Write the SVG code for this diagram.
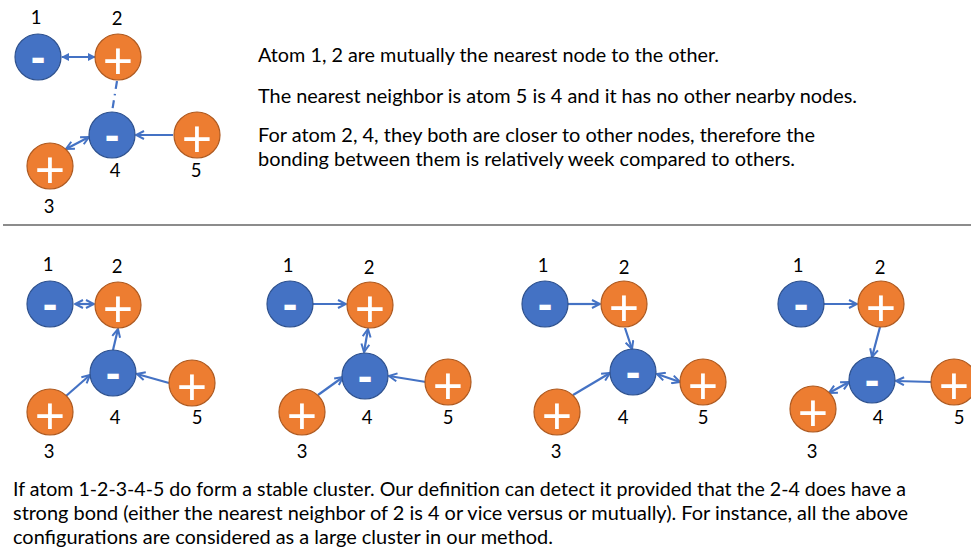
<svg xmlns="http://www.w3.org/2000/svg" width="971" height="550" viewBox="0 0 971 550">
<style>
.neg{fill:#4472C4;stroke:#2F528F;stroke-width:1.2}
.pos{fill:#ED7D31;stroke:#AE5A21;stroke-width:1.2}
.sign{font-family:"Liberation Sans",Arial,sans-serif;font-size:44px;fill:#fff;text-anchor:middle;font-weight:bold}
.plus{font-family:"Liberation Sans",Arial,sans-serif;font-size:52px;fill:#fff;text-anchor:middle}
.lbl{font-family:Lato,"Open Sans",sans-serif;font-size:18.5px;fill:#000;text-anchor:middle}
.txt{font-family:Lato,"Open Sans",sans-serif;font-size:18.5px;fill:#000}
.c{stroke:#4472C4;stroke-width:2.2;fill:none}
.ae{marker-end:url(#open)}
.ab{marker-end:url(#open);marker-start:url(#open)}
</style>
<defs>
<marker id="open" markerUnits="userSpaceOnUse" viewBox="0 0 10 10" markerWidth="10" markerHeight="10" refX="9" refY="5" orient="auto-start-reverse">
<path d="M1,1 L9,5 L1,9" fill="none" stroke="#4472C4" stroke-width="2"/>
</marker>
<marker id="tri" markerUnits="userSpaceOnUse" viewBox="0 0 10 10" markerWidth="8" markerHeight="8" refX="9" refY="5" orient="auto-start-reverse">
<path d="M0,0 L10,5 L0,10 Z" fill="#4472C4"/>
</marker>
</defs>
<rect width="971" height="550" fill="#fff"/>

<!-- connectors -->
<g id="connectors">
<!-- top panel -->
<line class="c" x1="62" y1="57" x2="95" y2="57" marker-start="url(#tri)" marker-end="url(#tri)"/>
<line class="c" x1="117" y1="81" x2="112" y2="112" stroke-dasharray="8,5,1.5,5" stroke-width="1.5"/>
<line class="c ab" x1="89" y1="137" x2="66" y2="149"/>
<line class="c ae" x1="173" y1="135" x2="136" y2="135"/>
<!-- panel 1 -->
<line class="c ab" x1="75" y1="304" x2="94" y2="304"/>
<line class="c ae" x1="113" y1="350" x2="118" y2="329"/>
<line class="c ae" x1="66" y1="396" x2="90" y2="375"/>
<line class="c ae" x1="169" y1="383" x2="137" y2="374"/>
<!-- panel 2 -->
<line class="c ae" x1="313" y1="304" x2="346" y2="304"/>
<line class="c ab" x1="368" y1="329" x2="364" y2="352"/>
<line class="c ae" x1="318" y1="395" x2="343" y2="377"/>
<line class="c ae" x1="426" y1="382" x2="389" y2="376"/>
<!-- panel 3 -->
<line class="c ae" x1="568" y1="304" x2="600" y2="304"/>
<line class="c ae" x1="625" y1="328" x2="632" y2="349"/>
<line class="c ae" x1="573" y1="395" x2="610" y2="373"/>
<line class="c ab" x1="657" y1="374" x2="680" y2="382"/>
<!-- panel 4 -->
<line class="c ae" x1="824" y1="304" x2="857" y2="304"/>
<line class="c ae" x1="880" y1="327" x2="872" y2="357"/>
<line class="c ab" x1="849" y1="382" x2="829" y2="393"/>
<line class="c ae" x1="932" y1="382" x2="896" y2="381"/>
</g>

<!-- top panel nodes -->
<g id="t-n1"><circle class="neg" cx="38" cy="57" r="23"/><text class="sign" x="38" y="72">-</text><text class="lbl" x="36" y="24">1</text></g>
<g id="t-n2"><circle class="pos" cx="118" cy="57" r="23"/><text class="plus" x="118" y="79">+</text><text class="lbl" x="117" y="25">2</text></g>
<g id="t-n3"><circle class="pos" cx="50" cy="166" r="23"/><text class="plus" x="50" y="188">+</text><text class="lbl" x="49" y="213">3</text></g>
<g id="t-n4"><circle class="neg" cx="112" cy="135" r="23"/><text class="sign" x="112" y="150">-</text><text class="lbl" x="115" y="177">4</text></g>
<g id="t-n5"><circle class="pos" cx="197" cy="135" r="23"/><text class="plus" x="197" y="157">+</text><text class="lbl" x="196" y="177">5</text></g>

<g id="top-text">
<text class="txt" x="258" y="62" textLength="461" lengthAdjust="spacingAndGlyphs">Atom 1, 2 are mutually the nearest node to the other.</text>
<text class="txt" x="258" y="103" textLength="599" lengthAdjust="spacingAndGlyphs">The nearest neighbor is atom 5 is 4 and it has no other nearby nodes.</text>
<text class="txt" x="258" y="142" textLength="557" lengthAdjust="spacingAndGlyphs">For atom 2, 4, they both are closer to other nodes, therefore the</text>
<text class="txt" x="258" y="166" textLength="537" lengthAdjust="spacingAndGlyphs">bonding between them is relatively week compared to others.</text>
</g>

<line x1="3" y1="225" x2="971" y2="225" stroke="#1a1a1a" stroke-width="1.2"/>

<!-- panel 1 -->
<g id="p1-n1"><circle class="neg" cx="50" cy="304" r="23"/><text class="sign" x="50" y="319">-</text><text class="lbl" x="48" y="271">1</text></g>
<g id="p1-n2"><circle class="pos" cx="118" cy="305" r="23"/><text class="plus" x="118" y="327">+</text><text class="lbl" x="117" y="273">2</text></g>
<g id="p1-n3"><circle class="pos" cx="50" cy="412" r="23"/><text class="plus" x="50" y="434">+</text><text class="lbl" x="49" y="458">3</text></g>
<g id="p1-n4"><circle class="neg" cx="113" cy="373" r="23"/><text class="sign" x="113" y="388">-</text><text class="lbl" x="115" y="424">4</text></g>
<g id="p1-n5"><circle class="pos" cx="192" cy="383" r="23"/><text class="plus" x="192" y="405">+</text><text class="lbl" x="197" y="424">5</text></g>

<!-- panel 2 -->
<g id="p2-n1"><circle class="neg" cx="290" cy="304" r="23"/><text class="sign" x="290" y="319">-</text><text class="lbl" x="288" y="272">1</text></g>
<g id="p2-n2"><circle class="pos" cx="370" cy="305" r="23"/><text class="plus" x="370" y="327">+</text><text class="lbl" x="369" y="274">2</text></g>
<g id="p2-n3"><circle class="pos" cx="302" cy="412" r="23"/><text class="plus" x="302" y="434">+</text><text class="lbl" x="302" y="458">3</text></g>
<g id="p2-n4"><circle class="neg" cx="365" cy="376" r="23"/><text class="sign" x="365" y="391">-</text><text class="lbl" x="367" y="424">4</text></g>
<g id="p2-n5"><circle class="pos" cx="448" cy="382" r="23"/><text class="plus" x="448" y="404">+</text><text class="lbl" x="448" y="424">5</text></g>

<!-- panel 3 -->
<g id="p3-n1"><circle class="neg" cx="545" cy="304" r="23"/><text class="sign" x="545" y="319">-</text><text class="lbl" x="543" y="272">1</text></g>
<g id="p3-n2"><circle class="pos" cx="624" cy="304" r="23"/><text class="plus" x="624" y="326">+</text><text class="lbl" x="624" y="274">2</text></g>
<g id="p3-n3"><circle class="pos" cx="557" cy="412" r="23"/><text class="plus" x="557" y="434">+</text><text class="lbl" x="556" y="458">3</text></g>
<g id="p3-n4"><circle class="neg" cx="633" cy="372" r="23"/><text class="sign" x="633" y="387">-</text><text class="lbl" x="623" y="424">4</text></g>
<g id="p3-n5"><circle class="pos" cx="703" cy="382" r="23"/><text class="plus" x="703" y="404">+</text><text class="lbl" x="703" y="424">5</text></g>

<!-- panel 4 -->
<g id="p4-n1"><circle class="neg" cx="801" cy="304" r="23"/><text class="sign" x="801" y="319">-</text><text class="lbl" x="798" y="272">1</text></g>
<g id="p4-n2"><circle class="pos" cx="881" cy="304" r="23"/><text class="plus" x="881" y="326">+</text><text class="lbl" x="880" y="274">2</text></g>
<g id="p4-n3"><circle class="pos" cx="813" cy="409" r="23"/><text class="plus" x="813" y="431">+</text><text class="lbl" x="812" y="458">3</text></g>
<g id="p4-n4"><circle class="neg" cx="872" cy="380" r="23"/><text class="sign" x="872" y="395">-</text><text class="lbl" x="878" y="424">4</text></g>
<g id="p4-n5"><circle class="pos" cx="954" cy="382" r="23"/><text class="plus" x="954" y="404">+</text><text class="lbl" x="959" y="424">5</text></g>

<g id="bottom-text">
<text class="txt" x="13" y="496" textLength="893" lengthAdjust="spacingAndGlyphs">If atom 1-2-3-4-5 do form a stable cluster. Our definition can detect it provided that the 2-4 does have a</text>
<text class="txt" x="13" y="520" textLength="895" lengthAdjust="spacingAndGlyphs">strong bond (either the nearest neighbor of 2 is 4 or vice versus or mutually). For instance, all the above</text>
<text class="txt" x="13" y="544" textLength="540" lengthAdjust="spacingAndGlyphs">configurations are considered as a large cluster in our method.</text>
</g>
</svg>
